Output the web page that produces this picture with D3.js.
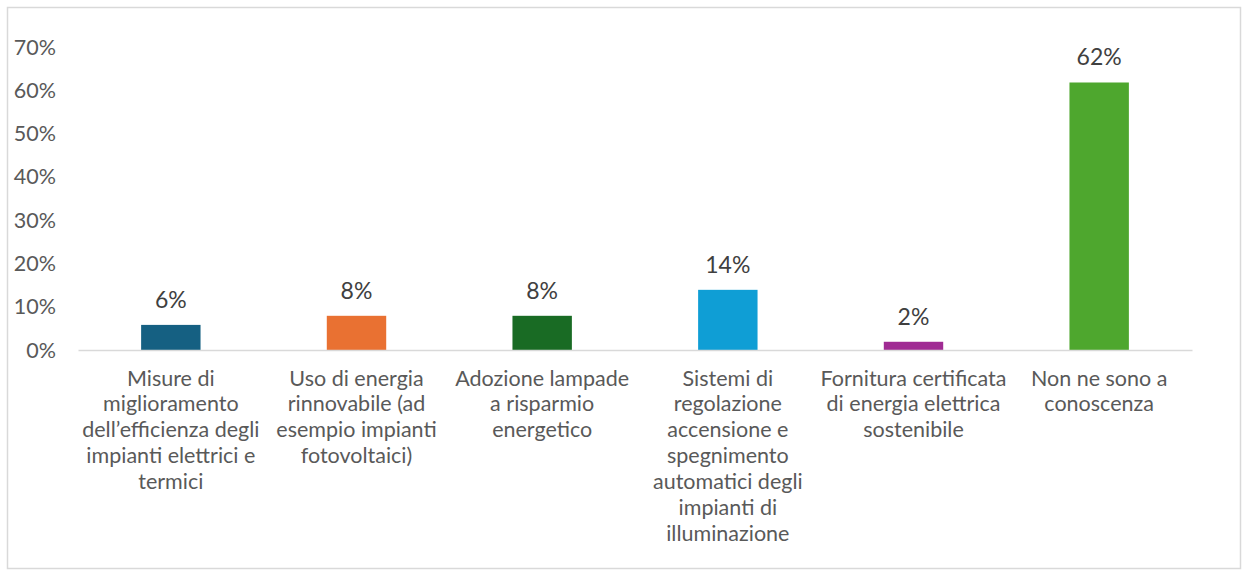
<!DOCTYPE html>
<html>
<head>
<meta charset="utf-8">
<script src="https://cdn.jsdelivr.net/npm/d3@7"></script>
<style>
  html, body { margin: 0; padding: 0; background: #fff; }
  svg { display: block; font-family: Lato, "Open Sans", sans-serif; }
</style>
</head>
<body>
<svg id="chart" width="1244" height="572"></svg>
<script>
const categories = [
  "Misure di\nmiglioramento\ndell\u2019efficienza degli\nimpianti elettrici e\ntermici",
  "Uso di energia\nrinnovabile (ad\nesempio impianti\nfotovoltaici)",
  "Adozione lampade\na risparmio\nenergetico",
  "Sistemi di\nregolazione\naccensione e\nspegnimento\nautomatici degli\nimpianti di\nilluminazione",
  "Fornitura certificata\ndi energia elettrica\nsostenibile",
  "Non ne sono a\nconoscenza"
];
const values = [0.058, 0.079, 0.079, 0.139, 0.019, 0.618];
const colors = ["#156082", "#E97132", "#196B24", "#0F9ED5", "#A02B93", "#4EA72E"];
const yTicks = [0, 0.1, 0.2, 0.3, 0.4, 0.5, 0.6, 0.7];

const svg = d3.select("#chart");

svg.append("rect")
  .attr("x", 7.5).attr("y", 7.5).attr("width", 1233).attr("height", 561)
  .attr("fill", "#fff").attr("stroke", "#d9d9d9").attr("stroke-width", 1.5);

const x = d3.scaleBand()
  .domain(d3.range(categories.length))
  .range([78, 1192])
  .paddingInner(0.68)
  .paddingOuter(0.34);

const y = d3.scaleLinear().domain([0, 0.7]).range([350, 47]);

const pct = d3.format(".0%");

// y axis (labels only)
const yAxis = d3.axisLeft(y).tickValues(yTicks).tickFormat(pct).tickSize(0).tickPadding(0);
const yg = svg.append("g").attr("transform", "translate(56,0)").call(yAxis);
yg.select(".domain").remove();
yg.selectAll("text")
  .attr("fill", "#595959")
  .attr("font-size", 21.5)
  .attr("font-family", "Lato, 'Open Sans', sans-serif")
  .attr("dy", "0.33em");

// bars
svg.append("g").selectAll("rect")
  .data(values)
  .join("rect")
  .attr("x", (d, i) => x(i))
  .attr("y", d => y(d))
  .attr("width", x.bandwidth())
  .attr("height", d => y(0) - y(d))
  .attr("fill", (d, i) => colors[i]);

// baseline
const xAxis = d3.axisBottom(x).tickSize(0).tickFormat("");
const xg = svg.append("g").attr("transform", `translate(0,${y(0)})`).call(xAxis);
xg.select(".domain").attr("stroke", "#d9d9d9").attr("stroke-width", 1.5);
xg.selectAll(".tick").remove();

// value labels
svg.append("g").selectAll("text")
  .data(values)
  .join("text")
  .attr("x", (d, i) => x(i) + x.bandwidth() / 2)
  .attr("y", d => y(d) - 17)
  .attr("text-anchor", "middle")
  .attr("fill", "#404040")
  .attr("font-size", 23)
  .text(d => pct(d));

// category labels
const cg = svg.append("g").selectAll("text")
  .data(categories)
  .join("text")
  .attr("x", (d, i) => x(i) + x.bandwidth() / 2)
  .attr("y", 385.5)
  .attr("text-anchor", "middle")
  .attr("fill", "#595959")
  .attr("font-size", 21.5);
cg.each(function(d, i) {
  const t = d3.select(this);
  d.split("\n").forEach((line, k) => {
    t.append("tspan")
      .attr("x", x(i) + x.bandwidth() / 2)
      .attr("y", 385.5 + k * 25.9)
      .text(line);
  });
});
</script>
</body>
</html>
